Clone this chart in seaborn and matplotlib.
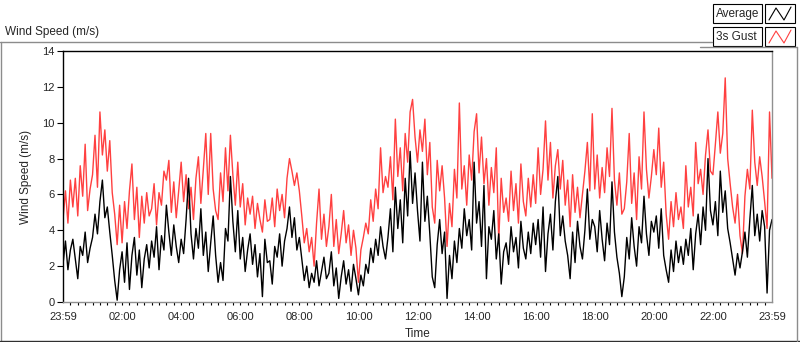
import numpy as np
import pandas as pd
import seaborn as sns
import matplotlib.pyplot as plt
from matplotlib.lines import Line2D
from matplotlib.patches import Rectangle
from matplotlib.ticker import MultipleLocator

# wind speed (m/s) sampled every 5 min from 23:59, one row per hour
avg_speed = [
    2.1, 3.4, 1.8, 2.9, 3.5, 2.4, 1.3, 3.1, 2.6, 3.9, 2.2, 3.0,
    3.6, 4.9, 3.8, 5.6, 6.8, 4.7, 5.3, 3.9, 2.6, 1.2, 0.1, 1.8,
    2.8, 1.1, 3.3, 0.7, 2.6, 3.6, 1.5, 2.9, 0.8, 2.4, 3.2, 1.9,
    3.4, 2.5, 4.2, 1.8, 3.7, 2.9, 5.4, 3.9, 2.6, 4.3, 3.1, 2.2,
    3.5, 2.7, 4.6, 6.9, 3.8, 2.4, 4.1, 3.0, 5.2, 2.6, 3.9, 1.7,
    3.3, 4.8, 2.6, 1.1, 2.2, 1.2, 4.1, 3.4, 7.0, 4.5, 2.8, 5.1,
    2.4, 3.6, 1.7, 2.9, 3.8, 2.1, 3.2, 1.4, 2.7, 0.3, 3.5, 2.2,
    2.3, 1.0, 3.1, 2.5, 3.8, 2.0, 3.4, 4.1, 5.3, 3.6, 4.7, 2.9,
    3.6, 2.4, 1.2, 2.0, 0.8, 1.6, 1.1, 2.3, 0.9, 1.7, 2.5, 1.3,
    1.6, 2.8, 0.9, 1.9, 0.2, 1.4, 2.3, 1.0, 1.8, 0.6, 2.1, 1.3,
    0.4, 1.5, 0.9, 2.1, 1.6, 3.0, 2.2, 3.5, 2.6, 4.2, 3.1, 2.4,
    3.6, 5.2, 2.8, 6.4, 4.1, 5.7, 3.3, 6.9, 4.8, 8.4, 5.5, 7.2,
    5.1, 3.4, 7.8, 4.5, 5.9, 3.8, 1.4, 0.8, 3.2, 4.6, 2.7, 3.9,
    0.2, 2.6, 1.3, 3.4, 2.2, 4.1, 3.0, 5.2, 3.7, 4.6, 2.9, 7.8,
    4.4, 5.6, 3.1, 6.5, 1.3, 4.2, 3.5, 5.1, 2.4, 3.8, 1.0, 2.8,
    3.3, 2.1, 4.2, 2.8, 3.6, 1.9, 4.5, 3.0, 2.4, 3.9, 2.7, 4.4,
    3.2, 4.6, 2.5, 5.3, 1.7, 3.8, 4.9, 2.9, 5.6, 7.0, 3.7, 4.8,
    3.4, 2.6, 1.3, 3.9, 2.2, 4.5, 3.1, 2.4, 4.0, 6.3, 3.5, 4.6,
    4.2, 2.8, 5.1, 3.5, 2.3, 4.4, 3.2, 6.7, 3.9, 2.5, 1.6, 0.3,
    1.4, 3.6, 2.4, 4.7, 3.1, 2.0, 4.2, 3.3, 5.9, 3.8, 2.6, 4.5,
    3.9, 4.8, 3.0, 5.2, 2.6, 1.8, 1.1, 2.9, 1.7, 3.4, 2.2, 3.1,
    2.1, 3.5, 2.6, 4.1, 1.8, 3.8, 4.9, 3.2, 5.3, 4.0, 8.0, 5.1,
    4.3, 5.6, 3.7, 7.3, 5.0, 6.2, 4.1, 3.3, 2.4, 1.5, 2.7, 1.9,
    2.8, 3.9, 2.5, 4.6, 6.5, 3.7, 4.9, 3.4, 5.1, 4.2, 0.5, 4.0,
    4.6,
]

gust_speed = [
    4.6, 6.2, 4.4, 6.8, 5.3, 6.9, 4.8, 7.6, 5.9, 8.8, 5.1, 6.3,
    7.1, 9.3, 6.4, 10.6, 8.2, 9.6, 7.3, 9.0, 6.1, 4.9, 3.2, 5.4,
    3.3, 5.6, 4.1, 6.2, 7.7, 4.6, 6.4, 3.6, 5.9, 4.4, 6.1, 4.8,
    5.2, 6.6, 4.3, 6.1, 5.4, 7.3, 6.8, 7.9, 5.0, 6.7, 4.7, 6.2,
    7.8, 5.6, 7.1, 5.2, 6.4, 4.6, 6.9, 8.1, 5.5, 7.4, 9.4, 6.0,
    9.4, 6.3, 5.1, 4.6, 7.2, 5.6, 8.6, 6.2, 9.3, 7.1, 5.4, 7.8,
    5.3, 6.6, 4.3, 5.8, 4.9, 5.9, 4.1, 5.5, 4.6, 3.9, 5.7, 4.5,
    4.6, 5.8, 4.2, 6.3, 5.1, 6.0, 4.7, 6.9, 8.0, 7.3, 6.5, 7.2,
    6.2, 4.8, 3.3, 4.1, 2.8, 3.6, 2.0, 4.4, 6.3, 3.5, 4.9, 3.1,
    4.2, 6.0, 3.1, 4.6, 2.7, 3.8, 5.1, 3.3, 4.3, 2.6, 4.0, 3.0,
    1.1, 2.9, 3.6, 4.4, 3.8, 5.7, 4.5, 6.3, 5.2, 8.6, 6.1, 7.0,
    6.4, 8.1, 5.7, 10.2, 7.0, 8.6, 6.2, 9.4, 7.8, 10.6, 11.3, 9.2,
    7.8, 9.6, 8.4, 10.2, 7.1, 8.9, 5.3, 4.4, 7.9, 6.2, 7.6, 5.8,
    3.1, 5.5, 4.2, 7.4, 5.8, 11.1, 6.3, 7.6, 5.4, 8.2, 6.8, 9.5,
    10.5, 7.2, 9.2, 6.6, 8.0, 5.4, 7.5, 6.1, 8.6, 3.4, 6.9, 5.0,
    5.8, 4.5, 7.3, 5.1, 6.6, 4.4, 7.7, 5.6, 4.8, 6.9, 5.3, 7.1,
    5.5, 8.6, 6.0, 7.4, 10.1, 6.8, 8.9, 5.8, 7.6, 8.5, 6.3, 7.9,
    5.4, 6.8, 4.2, 7.1, 5.0, 6.4, 4.7, 6.0, 7.3, 8.9, 6.2, 10.5,
    6.3, 8.2, 5.8, 7.5, 6.1, 8.6, 7.0, 10.8, 6.8, 5.4, 7.2, 4.9,
    5.2, 6.7, 9.4, 5.5, 7.2, 4.6, 8.1, 6.3, 10.6, 7.4, 5.8, 7.0,
    8.5, 7.1, 9.7, 6.4, 7.8, 4.9, 3.5, 5.6, 4.2, 6.1, 4.6, 5.3,
    4.1, 7.6, 5.3, 6.4, 4.8, 8.9, 6.6, 7.4, 6.0, 8.2, 9.6, 7.3,
    7.1, 8.8, 10.6, 8.3, 9.4, 12.5, 8.0, 6.6, 5.3, 4.4, 6.0, 3.7,
    2.7, 5.9, 7.4, 6.3, 10.7, 7.8, 6.5, 8.1, 7.0, 5.6, 4.1, 10.6,
    6.9,
]

time_labels = ["23:59", "02:00", "04:00", "06:00", "08:00", "10:00", "12:00",
               "14:00", "16:00", "18:00", "20:00", "22:00", "23:59"]

# hours since the start of the log
hours = np.arange(len(avg_speed)) * 5 / 60
df = pd.DataFrame({"Time": hours, "Average": avg_speed, "3s Gust": gust_speed})


def label_to_hours(lbl, start="23:59"):
    h, m = map(int, lbl.split(":"))
    sh, sm = map(int, start.split(":"))
    return ((h * 60 + m) - (sh * 60 + sm)) % 1440 / 60


tick_pos = [label_to_hours(t) for t in time_labels]
tick_pos[-1] = 24.0

sns.set_style("white")
plt.rcParams["font.family"] = ["Liberation Sans", "DejaVu Sans"]

fig = plt.figure(figsize=(8, 3.42), dpi=100)
ax = fig.add_axes([63 / 800, 1 - 302 / 342, 709 / 800, 251 / 342])

red = "#ff4040"
sns.lineplot(data=df, x="Time", y="3s Gust", color=red, lw=1.0, ax=ax)
sns.lineplot(data=df, x="Time", y="Average", color="black", lw=1.0, ax=ax)

ax.set_xlim(0, 24)
ax.set_ylim(0, 14)
ax.set_yticks(range(0, 15, 2))
ax.set_xticks(tick_pos)
ax.set_xticklabels(time_labels)
ax.xaxis.set_minor_locator(MultipleLocator(0.25))
ax.tick_params(axis="x", which="major", direction="out", length=4.5, width=1.4,
               color="black", pad=3, labelsize=8)
ax.tick_params(axis="x", which="minor", direction="out", length=2.5, width=0.8,
               color="black", bottom=True)
ax.tick_params(axis="y", which="major", direction="out", length=4, width=0.8,
               color="black", pad=2, labelsize=8, left=True)

ax.set_xlabel("Time", fontsize=8.5)
ax.set_ylabel("Wind Speed (m/s)", fontsize=8.5)
ax.xaxis.set_label_coords(0.5, -0.102)
ax.yaxis.set_label_coords(-0.044, 0.5)

ax.spines["top"].set_color("black")
ax.spines["left"].set_color("black")
ax.spines["right"].set_color("#909090")
ax.spines["bottom"].set_color("#909090")
for s in ax.spines.values():
    s.set_linewidth(1.0)

# panel frame and title
W, H = 800, 342


def fx(x):
    return x / W


def fy(y):
    return 1 - y / H


grey = "#8c8c8c"
fig.add_artist(Line2D([fx(0), fx(712)], [fy(42), fy(42)], color=grey, lw=1))
fig.add_artist(Line2D([fx(1), fx(1)], [fy(42), fy(341)], color=grey, lw=1))
fig.add_artist(Line2D([fx(0), fx(800)], [fy(340.5), fy(340.5)], color="#303030", lw=1))
fig.add_artist(Line2D([fx(700), fx(797)], [fy(47), fy(47)], color=grey, lw=1))
fig.add_artist(Line2D([fx(797), fx(797)], [fy(47), fy(341)], color=grey, lw=1))
fig.text(fx(5), fy(32), "Wind Speed (m/s)", fontsize=8.5, va="center", ha="left")

# legend boxes
for i, (name, col) in enumerate([("Average", "black"), ("3s Gust", red)]):
    top = 4 + i * 23
    fig.add_artist(Rectangle((fx(713), fy(top + 19)), fx(49), 19 / H,
                             fill=False, edgecolor="black", lw=0.8))
    fig.add_artist(Rectangle((fx(765), fy(top + 19)), fx(30), 19 / H,
                             fill=False, edgecolor="black", lw=0.8))
    fig.text(fx(716), fy(top + 9.5), name, fontsize=8.5, va="center", ha="left")
    zx = [769, 776, 784, 791]
    zy = [top + 16, top + 4, top + 16, top + 3]
    fig.add_artist(Line2D([fx(v) for v in zx], [fy(v) for v in zy], color=col, lw=0.8))

fig.savefig("out.png", dpi=100)
